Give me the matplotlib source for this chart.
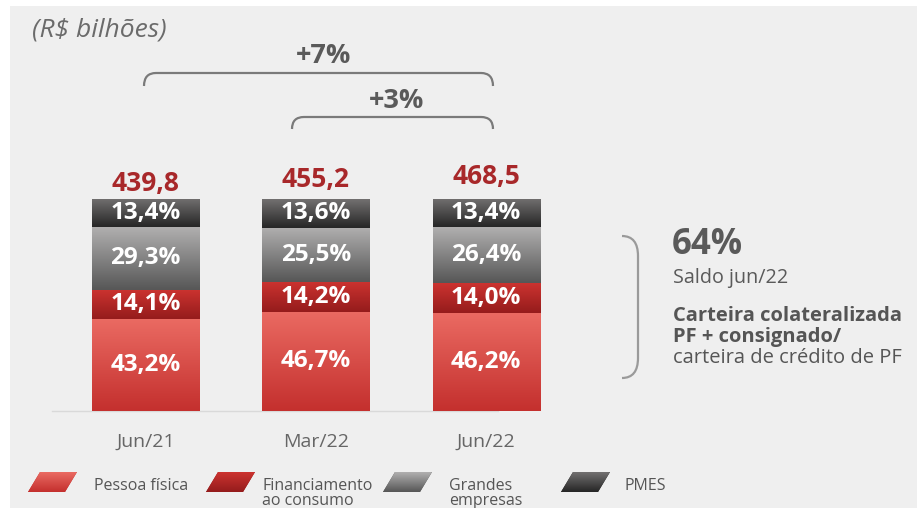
import numpy as np
import matplotlib
matplotlib.use("Agg")
import matplotlib.pyplot as plt
from matplotlib.path import Path
from matplotlib.patches import PathPatch, Polygon, Rectangle
from matplotlib.colors import LinearSegmentedColormap

plt.rcParams['font.family'] = ['Open Sans', 'DejaVu Sans']

# ---------------- data ----------------
categories = ["Jun/21", "Mar/22", "Jun/22"]
totals = [439.8, 455.2, 468.5]
pessoa_fisica = [43.2, 46.7, 46.2]
financiamento = [14.1, 14.2, 14.0]
grandes = [29.3, 25.5, 26.4]
pmes = [13.4, 13.6, 13.4]
series_names = ["Pessoa física", "Financiamento\nao consumo", "Grandes\nempresas", "PMES"]
growth_labels = ["+7%", "+3%"]

# ---------------- style ----------------
grad = {
    "pf": ("#ea6a62", "#c4302e"),
    "fin": ("#cc3330", "#951c1c"),
    "gr": ("#b0afaf", "#575757"),
    "pm": ("#727070", "#262626"),
}
BG = "#efefef"
W, H = 917, 508

fig = plt.figure(figsize=(W / 100, H / 100), dpi=100)
fig.patch.set_facecolor("white")

# overlay axes in pixel coordinates for decorations
ov = fig.add_axes([0, 0, 1, 1])
ov.set_xlim(0, W)
ov.set_ylim(H, 0)
ov.axis("off")
ov.add_patch(Rectangle((10, 6), W - 10, H - 6, facecolor=BG, edgecolor="none", zorder=0))

# main axes
left_px, right_px, bot_px, top_px = 52, 498, 411, 199
ax = fig.add_axes([left_px / W, (H - bot_px) / H, (right_px - left_px) / W, (bot_px - top_px) / H])
ax.set_facecolor("none")
spacing = 170.3
c0 = 145.5
ax.set_xlim((left_px - c0) / spacing, (right_px - c0) / spacing)
ax.set_ylim(0, 100)
for s in ["top", "left", "right"]:
    ax.spines[s].set_visible(False)
ax.spines["bottom"].set_color("#d9d9d9")
ax.spines["bottom"].set_linewidth(1.0)
ax.set_yticks([])
x = np.arange(len(categories))
ax.set_xticks(x, categories)
ax.tick_params(axis="x", length=0, pad=16, labelsize=14, labelcolor="#666666")

bw = 107 / spacing
series = [(pessoa_fisica, "pf"), (financiamento, "fin"), (grandes, "gr"), (pmes, "pm")]
bottom = np.zeros(len(categories))


def gradient_fill(axis, patch, top_c, bot_c, extent, z):
    cmap = LinearSegmentedColormap.from_list("g", [bot_c, top_c])
    img = axis.imshow(np.linspace(0, 1, 64).reshape(-1, 1), cmap=cmap, origin="lower",
                      extent=extent, aspect="auto", zorder=z, interpolation="bicubic")
    img.set_clip_path(patch)


for vals, key in series:
    vals = np.array(vals)
    bars = ax.bar(x, vals, bw, bottom=bottom, color=grad[key][1], edgecolor="none", zorder=2)
    for b in bars:
        bx, by, bwid, bh = b.get_x(), b.get_y(), b.get_width(), b.get_height()
        gradient_fill(ax, b, grad[key][0], grad[key][1], (bx, bx + bwid, by, by + bh), 3)
    for xi, v, b0 in zip(x, vals, bottom):
        ax.text(xi, b0 + v / 2, f"{v:.1f}".replace(".", ",") + "%", ha="center", va="center",
                color="white", fontsize=17.5, fontweight="bold", zorder=5)
    bottom = bottom + vals

ax.set_xlim((left_px - c0) / spacing, (right_px - c0) / spacing)
ax.set_ylim(0, 100)

total_y = [107.2, 109.0, 110.6]
for xi, t, ty in zip(x, totals, total_y):
    ax.text(xi, ty, f"{t:.1f}".replace(".", ","), ha="center", va="center", color="#a8282a",
            fontsize=19, fontweight="bold", clip_on=False)

# ---------------- decorations ----------------
ov.text(32, 30, "(R$ bilhões)", fontsize=19, style="italic", color="#6b6b6b", ha="left", va="center")


def bracket(x0, x1, ytop, yend, r=12):
    verts = [(x0, yend), (x0, ytop), (x0 + r, ytop), (x1 - r, ytop), (x1, ytop), (x1, yend)]
    codes = [Path.MOVETO, Path.CURVE3, Path.CURVE3, Path.LINETO, Path.CURVE3, Path.CURVE3]
    ov.add_patch(PathPatch(Path(verts, codes), facecolor="none", edgecolor="#7a7a7a", lw=1.6))


bracket(144, 493, 73, 86)
bracket(292, 493, 117, 129)
ov.text(324, 56, growth_labels[0], ha="center", va="center", fontsize=19.5, fontweight="bold", color="#5a5a5a")
ov.text(397, 101, growth_labels[1], ha="center", va="center", fontsize=19.5, fontweight="bold", color="#5a5a5a")

# right bracket
verts = [(622, 236), (638, 236), (638, 256), (638, 358), (638, 378), (622, 378)]
codes = [Path.MOVETO, Path.CURVE3, Path.CURVE3, Path.LINETO, Path.CURVE3, Path.CURVE3]
ov.add_patch(PathPatch(Path(verts, codes), facecolor="none", edgecolor="#9a9a9a", lw=1.6))

ov.text(672, 245, "64%", fontsize=25, fontweight="bold", color="#5a5a5a", ha="left", va="center")
ov.text(673, 278, "Saldo jun/22", fontsize=14.2, color="#5a5a5a", ha="left", va="center")
ov.text(673, 316, "Carteira colateralizada", fontsize=14.5, fontweight="bold", color="#555555", ha="left", va="center")
ov.text(673, 337, "PF + consignado/", fontsize=14.5, fontweight="bold", color="#555555", ha="left", va="center")
ov.text(673, 358, "carteira de crédito de PF", fontsize=14.5, color="#555555", ha="left", va="center")

# legend
sw_x = [28, 206, 383, 561]
txt_x = [94, 262, 449, 624]
for (vals, key), sx, tx, name in zip(series, sw_x, txt_x, series_names):
    poly = Polygon([(sx, 492), (sx + 12, 472), (sx + 49, 472), (sx + 37, 492)], closed=True,
                   facecolor=grad[key][1], edgecolor="none", zorder=2)
    ov.add_patch(poly)
    cmap = LinearSegmentedColormap.from_list("g", [grad[key][0], grad[key][1]])
    im = ov.imshow(np.linspace(0, 1, 32).reshape(-1, 1), cmap=cmap, extent=(sx, sx + 49, 492, 472),
                   aspect="auto", origin="upper", interpolation="bicubic", zorder=3)
    im.set_clip_path(poly)
    ov.text(tx, 478, name, fontsize=11.5, color="#555555", ha="left", va="top", linespacing=0.95)

ov.set_xlim(0, W)
ov.set_ylim(H, 0)

fig.savefig("out.png", dpi=100, facecolor="white")
